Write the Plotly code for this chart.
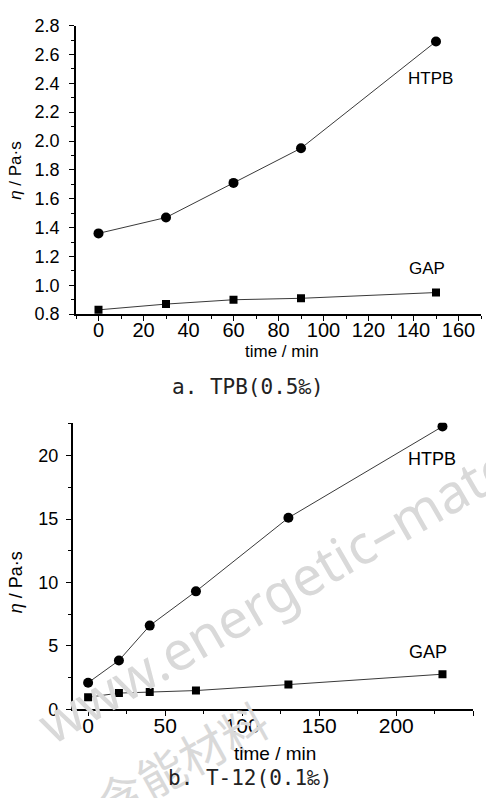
import plotly.graph_objects as go

# Panel a: TPB (0.5‰)
time_a = [0, 30, 60, 90, 150]
htpb_a = [1.36, 1.47, 1.71, 1.95, 2.69]
gap_a = [0.83, 0.87, 0.90, 0.91, 0.95]

# Panel b: T-12 (0.1‰)
time_b = [0, 20, 40, 70, 130, 230]
htpb_b = [2.1, 3.85, 6.6, 9.3, 15.1, 22.3]
gap_b = [0.95, 1.28, 1.36, 1.48, 1.95, 2.77]

W, H = 486, 798
FONT = "Liberation Sans Narrow, Arial Narrow, Liberation Sans, Arial"
CAP_FONT = "DejaVu Sans Mono, monospace"
LINE = dict(color="#222222", width=0.9)


def px(x):
    return x / W


def py(y):
    return 1 - y / H


fig = go.Figure()

for xs, ys, sym, size, xa, ya in [
    (time_a, htpb_a, "circle", 10, "x", "y"),
    (time_a, gap_a, "square", 8, "x", "y"),
    (time_b, htpb_b, "circle", 10, "x2", "y2"),
    (time_b, gap_b, "square", 8, "x2", "y2"),
]:
    fig.add_trace(go.Scatter(x=xs, y=ys, mode="lines+markers", line=LINE,
                             marker=dict(symbol=sym, size=size, color="black"),
                             xaxis=xa, yaxis=ya, showlegend=False))


def axis(size, **kw):
    d = dict(showgrid=False, zeroline=False, showline=True, linecolor="black",
             linewidth=1.5, ticks="outside", ticklen=5, tickwidth=1.2, tickcolor="black",
             tickfont=dict(family=FONT, size=size, color="black"))
    d.update(kw)
    return d


def minor(**kw):
    d = dict(ticks="outside", ticklen=3, tickwidth=1, tickcolor="black")
    d.update(kw)
    return d


fig.update_layout(
    width=W, height=H,
    margin=dict(l=0, r=0, t=0, b=0),
    paper_bgcolor="white", plot_bgcolor="white",
    xaxis=axis(20, domain=[px(76), px(481)], range=[-10, 170],
               tickvals=[0, 20, 40, 60, 80, 100, 120, 140, 160],
               minor=minor(tickvals=[-10, 10, 30, 50, 70, 90, 110, 130, 150, 170]),
               ticklabelstandoff=-8, anchor="y"),
    yaxis=axis(18, domain=[py(312), py(16)], range=[0.8, 2.8],
               tickvals=[0.8, 1.0, 1.2, 1.4, 1.6, 1.8, 2.0, 2.2, 2.4, 2.6, 2.8],
               tickformat=".1f", minor=minor(dtick=0.1),
               ticklabelstandoff=6, anchor="x"),
    xaxis2=axis(21, domain=[px(72.7), px(473.3)], range=[-10, 250],
                tickvals=[0, 50, 100, 150, 200, 250],
                minor=minor(tickvals=[25, 75, 125, 175, 225]),
                ticklabelstandoff=-8, anchor="y2"),
    yaxis2=axis(18, domain=[py(717.3), py(423.3)], range=[0, 22.6],
                tickvals=[0, 5, 10, 15, 20],
                minor=minor(tickvals=[2.5, 7.5, 12.5, 17.5, 22.5]),
                ticklabelstandoff=4, anchor="x2"),
)


def note(text, x, y, size, family=FONT, color="black", angle=0):
    return dict(text=text, x=px(x), y=py(y), xref="paper", yref="paper",
                xanchor="center", yanchor="middle", showarrow=False,
                textangle=angle, font=dict(family=family, size=size, color=color))


ann = [
    # watermark
    note("www.energetic–materials.org.cn", 396, 526, 54,
         family="Noto Sans, DejaVu Sans", color="#d9d9d9", angle=-30),
    note("含能材料", 181, 769, 47, family="Noto Sans CJK SC", color="#d9d9d9", angle=-29),
    # series labels
    note("HTPB", 430, 70, 17),
    note("GAP", 427, 265, 17),
    note("HTPB", 432, 461, 18),
    note("GAP", 428, 659, 18),
    # axis titles
    note("time / min", 282, 350, 17),
    note("time / min", 275, 763, 19),
    note("<i>η</i> / Pa·s", 16, 165, 17, angle=-90),
    note("<i>η</i> / Pa·s", 16, 587, 18, angle=-90),
    # panel captions
    note("a. TPB(0.5‰)", 248, 387, 21, family=CAP_FONT, color="#222222"),
    note("b. T-12(0.1‰)", 250, 788, 21, family=CAP_FONT, color="#222222"),
]

fig.update_layout(annotations=ann)

fig.write_html("out.html")
